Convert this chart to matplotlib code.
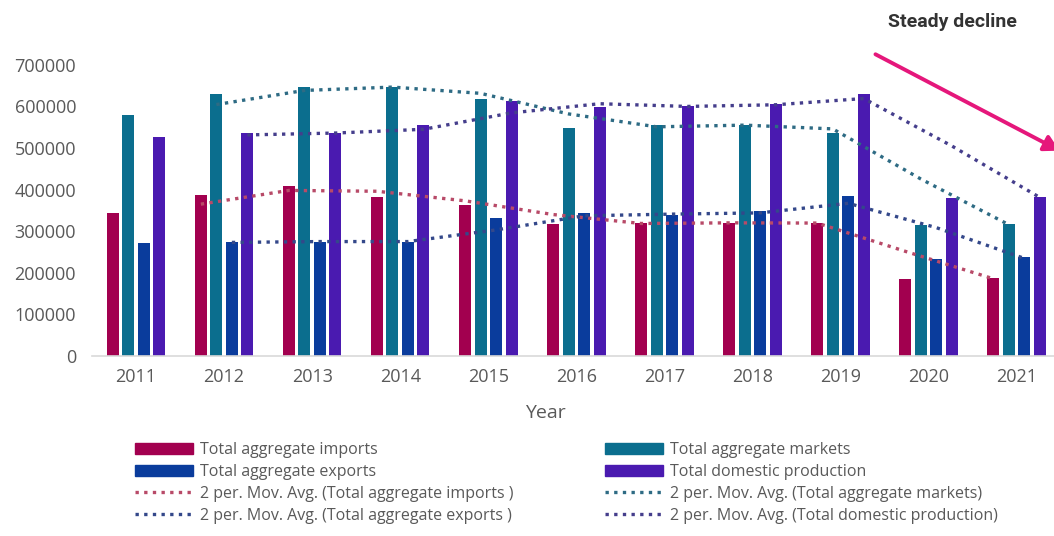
import matplotlib.pyplot as plt
import matplotlib.patches as mpatches
import matplotlib.lines as mlines
import numpy as np

plt.rcParams['font.family'] = ['Open Sans', 'DejaVu Sans']

years = ['2011', '2012', '2013', '2014', '2015', '2016', '2017', '2018', '2019', '2020', '2021']
imports = [343000, 387000, 409000, 383000, 363000, 317000, 320000, 320000, 319000, 184000, 187000]
markets = [579000, 630000, 647000, 646000, 617000, 547000, 555000, 555000, 537000, 314000, 317000]
exports = [271000, 275000, 275000, 275000, 331000, 343000, 339000, 349000, 385000, 232000, 237000]
domestic = [526000, 537000, 535000, 555000, 614000, 599000, 601000, 607000, 631000, 379000, 383000]

series = [
    ('Total aggregate imports', imports, '#A2004F', '#B84A68',
     '2 per. Mov. Avg. (Total aggregate imports )'),
    ('Total aggregate markets', markets, '#0B6E8E', '#2E6B84',
     '2 per. Mov. Avg. (Total aggregate markets)'),
    ('Total aggregate exports', exports, '#0A3C9C', '#34488A',
     '2 per. Mov. Avg. (Total aggregate exports )'),
    ('Total domestic production', domestic, '#4A1AB0', '#453E8C',
     '2 per. Mov. Avg. (Total domestic production)'),
]

fig = plt.figure(figsize=(10.54, 5.36), dpi=100)
ax = fig.add_axes([0.0873, 0.336, 0.919, 0.543])

x = np.arange(len(years))
width = 0.136
pitch = 0.176
offsets = [-1.5 * pitch, -0.5 * pitch, 0.5 * pitch, 1.5 * pitch]

bar_handles = {}
ma_handles = {}
dots = (0, (1.0, 1.6))
for (name, vals, col, ma_col, ma_name), off in zip(series, offsets):
    vals = np.array(vals, dtype=float)
    ax.bar(x + off, vals, width, color=col, zorder=2)
    # 2-period moving average trendline, drawn at each bar of the series
    ma = (vals[1:] + vals[:-1]) / 2
    ax.plot(x[1:] + off, ma, color=ma_col, linewidth=2.4, linestyle=dots, zorder=3)
    bar_handles[name] = mpatches.Patch(color=col, label=name)
    ma_handles[name] = mlines.Line2D([], [], color=ma_col, linewidth=2.4,
                                     linestyle=dots, label=ma_name)

ax.set_xlim(-0.5, 10.5)
ax.set_ylim(0, 700000)
ax.set_xticks(x)
ax.set_xticklabels(years)
ax.set_yticks(np.arange(0, 700001, 100000))
ax.tick_params(length=0, labelsize=13, colors='#595959', pad=9)
ax.tick_params(axis='y', pad=11.5)
for s in ['top', 'right', 'left']:
    ax.spines[s].set_visible(False)
ax.spines['bottom'].set_color('#D9D9D9')
ax.spines['bottom'].set_linewidth(1.2)
ax.set_xlabel('Year', fontsize=14, color='#595959')
ax.xaxis.set_label_coords(0.468, -0.165)

names = [s[0] for s in series]
left_handles = [bar_handles[names[0]], bar_handles[names[2]],
                ma_handles[names[0]], ma_handles[names[2]]]
right_handles = [bar_handles[names[1]], bar_handles[names[3]],
                 ma_handles[names[1]], ma_handles[names[3]]]

leg_kw = dict(loc='upper left', frameon=False, fontsize=11.5, handlelength=3.6,
              handleheight=0.7, handletextpad=0.45, labelspacing=0.37,
              labelcolor='#595959', borderpad=0, borderaxespad=0)
fig.legend(handles=left_handles, bbox_to_anchor=(135 / 1054, 1 - 442 / 536), **leg_kw)
fig.legend(handles=right_handles, bbox_to_anchor=(605 / 1054, 1 - 442 / 536), **leg_kw)

# annotation arrow and caption in the top right corner
fig.text(952 / 1054, 1 - 22 / 536, 'Steady decline', family='Roboto', fontweight='bold',
         fontsize=14, color='#333333', ha='center', va='center')
fig.patches.append(mpatches.FancyArrowPatch(
    (873 / 1054, 1 - 53 / 536), (1062 / 1054, 1 - 152 / 536),
    transform=fig.transFigure, arrowstyle='-|>,head_length=9,head_width=5',
    color='#E5177B', linewidth=2.8, mutation_scale=1))

fig.savefig('out.png', dpi=100)
